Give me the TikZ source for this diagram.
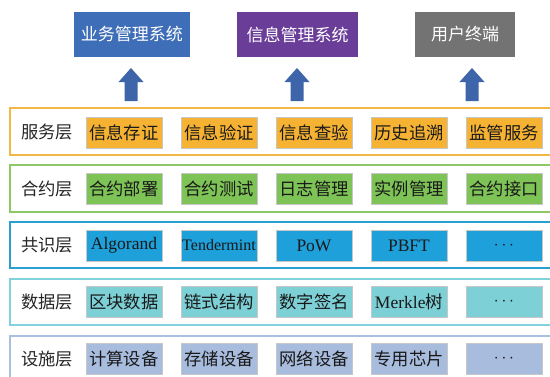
\documentclass[tikz,border=0pt]{standalone}
\usepackage{fontspec}
\setmainfont{Liberation Serif}
\newfontfamily\cjk{Noto Sans CJK SC}
\definecolor{topblue}{RGB}{62,110,183}
\definecolor{toppurple}{RGB}{106,62,152}
\definecolor{topgray}{RGB}{115,115,115}
\definecolor{arrowblue}{RGB}{62,100,170}
\definecolor{svcframe}{RGB}{240,185,70}
\definecolor{svcbox}{RGB}{246,178,50}
\definecolor{conframe}{RGB}{140,200,100}
\definecolor{conbox}{RGB}{125,195,85}
\definecolor{csframe}{RGB}{40,160,210}
\definecolor{csbox}{RGB}{30,160,218}
\definecolor{dtframe}{RGB}{130,210,222}
\definecolor{dtbox}{RGB}{125,208,214}
\definecolor{fcframe}{RGB}{170,190,225}
\definecolor{fcbox}{RGB}{168,188,222}
\tikzset{
  topbox/.style={minimum height=45pt, inner sep=0pt, text=white, font=\cjk\fontsize{17}{20}\selectfont},
  band/.style={line width=1.8pt},
  cell/.style={minimum width=76pt, minimum height=31pt, inner sep=0pt, draw=black!22, line width=0.6pt,
    font=\fontsize{17.5}{20}\selectfont, text=black!90},
  zhcell/.style={cell, font=\cjk\fontsize{17.3}{20}\selectfont},
  layerlabel/.style={inner sep=0pt, font=\cjk\fontsize{17.3}{20}\selectfont, text=black!85},
  uparrow/.style={fill=arrowblue, draw=none}
}
\begin{document}
\begin{tikzpicture}[x=1pt,y=-1pt]
\useasboundingbox (0,0) rectangle (550,376);
\fill[white] (0,0) rectangle (550,376);
\begin{scope}
\clip (0,0) rectangle (550,376);
% top systems
\node[topbox, fill=topblue, minimum width=116pt] (sys1) at (132,34.5) {业务管理系统};
\node[topbox, fill=toppurple, minimum width=121pt] (sys2) at (297.5,34.5) {信息管理系统};
\node[topbox, fill=topgray, minimum width=100pt] (sys3) at (465,34.5) {用户终端};
% arrows
\foreach \cx in {131,297,472}{
  \fill[uparrow] (\cx,68) -- (\cx+12.5,82) -- (\cx+6.5,82) -- (\cx+6.5,101) -- (\cx-6.5,101) -- (\cx-6.5,82) -- (\cx-12.5,82) -- cycle;
}
% bands
\draw[band, draw=svcframe] (10,108) rectangle (560,155);
\draw[band, draw=conframe] (10,165) rectangle (560,212);
\draw[band, draw=csframe] (10,222) rectangle (560,268);
\draw[band, draw=dtframe] (10,279) rectangle (560,325);
\draw[band, draw=fcframe] (10,336) rectangle (560,384);
% layer labels
\node[layerlabel] (l1) at (47,131.5) {服务层};
\node[layerlabel] (l2) at (47,188.5) {合约层};
\node[layerlabel] (l3) at (47,245) {共识层};
\node[layerlabel] (l4) at (47,302) {数据层};
\node[layerlabel] (l5) at (47,359) {设施层};
% service
\node[zhcell, fill=svcbox] (s1) at (124,132.5) {信息存证};
\node[zhcell, fill=svcbox] (s2) at (219,132.5) {信息验证};
\node[zhcell, fill=svcbox] (s3) at (314,132.5) {信息查验};
\node[zhcell, fill=svcbox] (s4) at (409,132.5) {历史追溯};
\node[zhcell, fill=svcbox] (s5) at (504,132.5) {监管服务};
% contract
\node[zhcell, fill=conbox] (c1) at (124,189) {合约部署};
\node[zhcell, fill=conbox] (c2) at (219,189) {合约测试};
\node[zhcell, fill=conbox] (c3) at (314,189) {日志管理};
\node[zhcell, fill=conbox] (c4) at (409,189) {实例管理};
\node[zhcell, fill=conbox] (c5) at (504,189) {合约接口};
% consensus
\node[cell, fill=csbox] (k1) at (124,245.5) {Algorand};
\node[cell, fill=csbox, font=\fontsize{16}{19}\selectfont] (k2) at (219,245.5) {Tendermint};
\node[cell, fill=csbox] (k3) at (314,245.5) {PoW};
\node[cell, fill=csbox] (k4) at (409,245.5) {PBFT};
\node[cell, fill=csbox] (k5) at (504,245.5) {$\cdots$};
% data
\node[zhcell, fill=dtbox] (d1) at (124,302) {区块数据};
\node[zhcell, fill=dtbox] (d2) at (219,302) {链式结构};
\node[zhcell, fill=dtbox] (d3) at (314,302) {数字签名};
\node[cell, fill=dtbox] (d4) at (409,302) {Merkle{\cjk 树}};
\node[cell, fill=dtbox] (d5) at (504,302) {$\cdots$};
% facility
\node[zhcell, fill=fcbox] (f1) at (124,359) {计算设备};
\node[zhcell, fill=fcbox] (f2) at (219,359) {存储设备};
\node[zhcell, fill=fcbox] (f3) at (314,359) {网络设备};
\node[zhcell, fill=fcbox] (f4) at (409,359) {专用芯片};
\node[cell, fill=fcbox] (f5) at (504,359) {$\cdots$};
\end{scope}
\end{tikzpicture}
\end{document}
